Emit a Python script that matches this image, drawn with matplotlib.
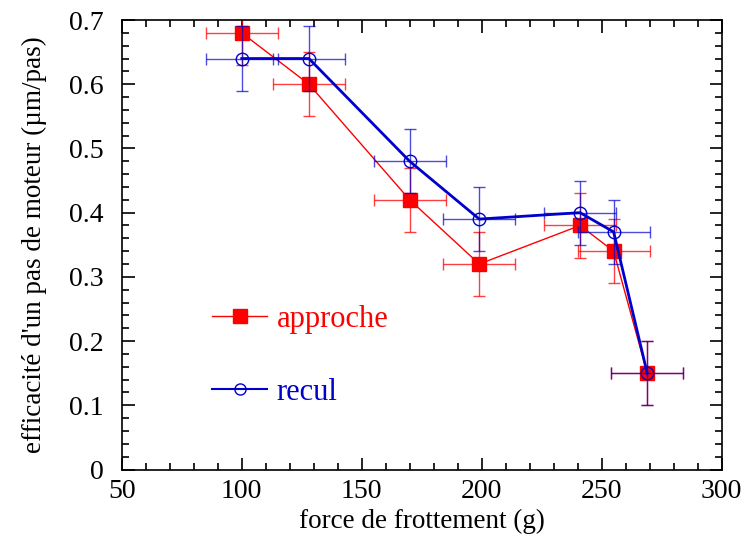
import matplotlib
matplotlib.use('Agg')
import matplotlib.pyplot as plt
from matplotlib.lines import Line2D
from matplotlib.ticker import MultipleLocator, FuncFormatter

# force de frottement (g)
force_app = [100, 128, 170, 199, 241, 255, 269]
eff_app = [0.68, 0.60, 0.42, 0.32, 0.38, 0.34, 0.15]
err_app = [0.05, 0.05, 0.05, 0.05, 0.05, 0.05, 0.05]

force_rec = [100, 128, 170, 199, 241, 255, 269]
eff_rec = [0.64, 0.64, 0.48, 0.39, 0.40, 0.37, 0.15]
err_rec = [0.05, 0.05, 0.05, 0.05, 0.05, 0.05, 0.05]

xerr = 15

plt.rcParams['font.family'] = ['Liberation Serif', 'DejaVu Serif']

fig = plt.figure(figsize=(7.47, 5.35), dpi=100)
ax = fig.add_axes([0.163, 0.1224, 0.803, 0.8402])

# approche (rouge)
ax.errorbar(force_app, eff_app, xerr=xerr, yerr=err_app, fmt='none',
            ecolor='red', elinewidth=1, capsize=4, capthick=1, alpha=0.75, zorder=2)
ax.plot(force_app, eff_app, color='red', lw=1, marker='s', ms=10,
        mfc='red', mec='red', zorder=3)

# recul (bleu)
ax.errorbar(force_rec, eff_rec, xerr=xerr, yerr=err_rec, fmt='none',
            ecolor='#0000cc', elinewidth=1, capsize=4, capthick=1, alpha=0.7, zorder=4)
ax.plot(force_rec, eff_rec, color='#0000cc', lw=2, marker='o', ms=9,
        mfc='none', mec='#0000cc', mew=1, zorder=5)

ax.set_xlim(50, 300)
ax.set_ylim(0, 0.7)
ax.xaxis.set_major_locator(MultipleLocator(50))
ax.xaxis.set_minor_locator(MultipleLocator(10))
ax.yaxis.set_major_locator(MultipleLocator(0.1))
ax.yaxis.set_minor_locator(MultipleLocator(0.02))
ax.yaxis.set_major_formatter(FuncFormatter(
    lambda v, p: '0' if abs(v) < 1e-9 else f'{v:.1f}'))
ax.tick_params(which='both', direction='in', top=True, right=True,
               labelsize=20, width=1.2)
ax.tick_params(which='major', length=9)
ax.tick_params(which='minor', length=5)
ax.tick_params(axis='x', which='major', pad=7)
ax.tick_params(axis='y', which='major', pad=13)
for s in ax.spines.values():
    s.set_linewidth(1.2)

ax.set_xlabel('force de frottement (g)', fontsize=19.5, labelpad=3)
ax.set_ylabel("efficacité d'un pas de moteur (µm/pas)", fontsize=19.5, labelpad=16)

handles = [
    Line2D([], [], color='red', lw=1, marker='s', ms=10, mfc='red', mec='red'),
    Line2D([], [], color='#0000cc', lw=1.5, marker='o', ms=8, mfc='none', mec='#0000cc'),
]
ax.legend(handles, ['approche', 'recul'], loc='lower left',
          bbox_to_anchor=(0.105, 0.078), frameon=False, fontsize=22,
          handlelength=1.8, handletextpad=0.3, labelspacing=1.45,
          labelcolor=['red', '#0000cc'])

fig.savefig('out.png', dpi=100)
